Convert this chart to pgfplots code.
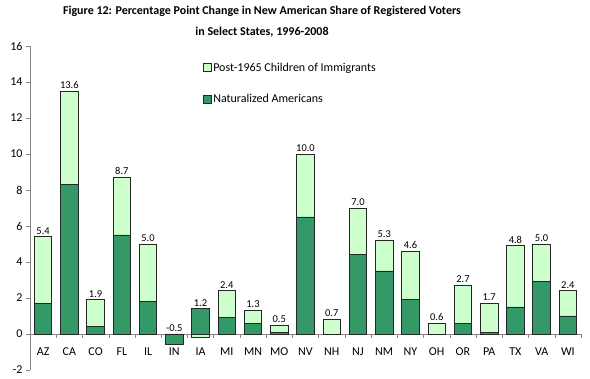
\documentclass[border=0pt]{standalone}
\usepackage{pgfplots}
\pgfplotsset{compat=1.18}
\usepackage{fontspec}
\setmainfont{Carlito}
\definecolor{darkg}{RGB}{51,153,102}
\definecolor{lightg}{RGB}{204,255,204}
\definecolor{axgray}{RGB}{134,134,134}
\definecolor{edge}{RGB}{38,38,38}
\pgfplotsset{sqlegend/.style={legend image code/.code={\draw[##1, line width=0.6pt] (0pt,-4pt) rectangle (8pt,4pt);}}}
\begin{document}
\begin{tikzpicture}
\begin{axis}[
  name=ax,
  scale only axis, width=551pt, height=324pt,
  xmin=-0.5, xmax=20.5, ymin=-2, ymax=16,
  axis y line=left, axis x line=middle,
  axis line style={-, axgray},
  tick align=outside,
  tick style={axgray, thin},
  major tick length=4pt,
  ytick={-2,0,...,16},
  xtick={-0.5,0.5,...,20.5},
  xticklabels={},
  extra x ticks={0,1,...,20},
  extra x tick labels={AZ,CA,CO,FL,IL,IN,IA,MI,MN,MO,NV,NH,NJ,NM,NY,OH,OR,PA,TX,VA,WI},
  extra x tick style={major tick length=0pt, tick label style={yshift=-10pt}},
  tick label style={font=\fontsize{12}{14}\selectfont, text=black},
  /pgf/number format/assume math mode=true,
  clip=false,
  legend style={draw=none, fill=none, at={(0.313,0.955)}, anchor=north west,
    font=\fontsize{12}{14}\selectfont, row sep=18pt, inner sep=0pt},
  legend cell align=left,
]
\addplot[ybar, bar width=17.5pt, bar shift=0pt, fill=lightg, draw=edge, line width=0.8pt, sqlegend]
  coordinates {(0,5.4) (1,13.5) (2,1.9) (3,8.7) (4,5.0) (5,0) (6,-0.2) (7,2.4) (8,1.3) (9,0.5)
  (10,10.0) (11,0.8) (12,7.0) (13,5.2) (14,4.6) (15,0.6) (16,2.7) (17,1.7) (18,4.9) (19,5.0) (20,2.4)};
\addlegendentry{Post-1965 Children of Immigrants}
\addplot[ybar, bar width=17.5pt, bar shift=0pt, fill=darkg, draw=edge, line width=0.8pt, sqlegend]
  coordinates {(0,1.7) (1,8.3) (2,0.4) (3,5.5) (4,1.8) (5,-0.6) (6,1.4) (7,0.9) (8,0.6) (9,0.1)
  (10,6.5) (12,4.4) (13,3.5) (14,1.9) (16,0.6) (17,0.1) (18,1.5) (19,2.9) (20,1.0)};
\addlegendentry{Naturalized Americans}
\addplot[draw=none, mark=none, forget plot, nodes near coords, point meta=explicit symbolic,
  every node near coord/.append style={font=\fontsize{10.5}{12}\selectfont, text=black, inner sep=2.5pt}]
  coordinates {(0,5.4)[5.4] (1,13.5)[13.6] (2,1.9)[1.9] (3,8.7)[8.7] (4,5.0)[5.0] (5,0)[-0.5]
  (6,1.4)[1.2] (7,2.4)[2.4] (8,1.3)[1.3] (9,0.5)[0.5] (10,10.0)[10.0] (11,0.8)[0.7] (12,7.0)[7.0]
  (13,5.2)[5.3] (14,4.6)[4.6] (15,0.6)[0.6] (16,2.7)[2.7] (17,1.7)[1.7] (18,4.9)[4.8] (19,5.0)[5.0] (20,2.4)[2.4]};
\end{axis}
\node[anchor=north, align=center, inner sep=0pt, font=\fontsize{12}{21}\selectfont\bfseries]
  at ([xshift=232pt,yshift=40pt]ax.north west)
  {Figure 12: Percentage Point Change in New American Share of Registered Voters\\in Select States, 1996-2008};
\pgfresetboundingbox
\path ([xshift=-30pt,yshift=-9pt]ax.south west) rectangle ([xshift=9pt,yshift=46pt]ax.north east);
\end{tikzpicture}
\end{document}
